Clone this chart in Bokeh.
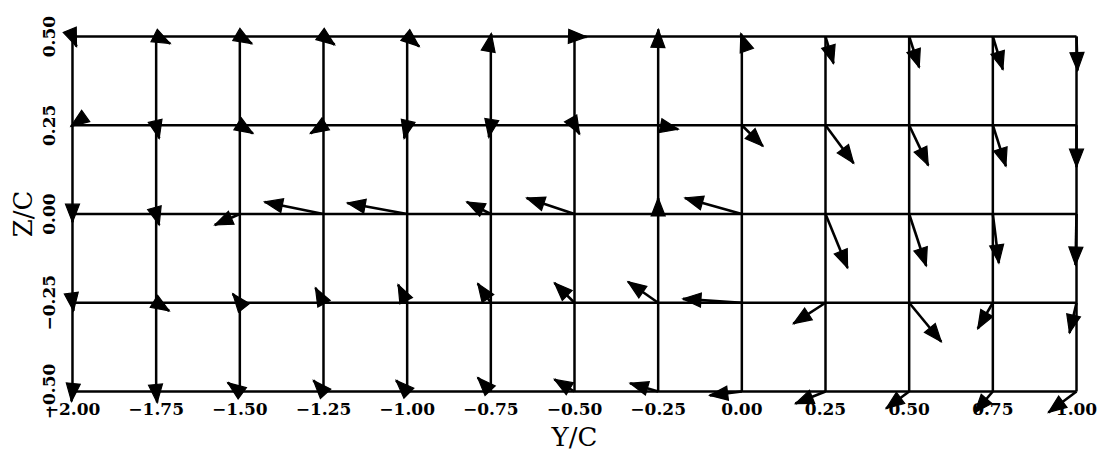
import numpy as np
from bokeh.plotting import figure
from bokeh.models import LinearAxis, FixedTicker, Range1d
from bokeh.embed import file_html
from bokeh.resources import INLINE

# grid stations
y_positions = [-2.00, -1.75, -1.50, -1.25, -1.00, -0.75, -0.50, -0.25,
               0.00, 0.25, 0.50, 0.75, 1.00]
z_positions = [0.50, 0.25, 0.00, -0.25, -0.50]

y_tick_labels = ["\u22122.00", "\u22121.75", "\u22121.50", "\u22121.25", "\u22121.00",
                 "\u22120.75", "\u22120.50", "\u22120.25", "0.00", "0.25", "0.50",
                 "0.75", "1.00"]
z_tick_labels = ["0.50", "0.25", "0.00", "\u22120.25", "\u22120.50"]

# vector components (in Y/C and Z/C units) at each station, one row per Z/C level
dy_z_p050 = [0.012, 0.042, 0.036, 0.033, 0.036, 0.0015, 0.036, 0.0005, -0.003, 0.024, 0.030, 0.030, 0.003]
dz_z_p050 = [-0.028, -0.020, -0.020, -0.023, -0.028, 0.008, -0.001, 0.020, 0.008, -0.076, -0.087, -0.093, -0.096]

dy_z_p025 = [-0.0045, 0.009, 0.039, -0.039, -0.009, -0.006, 0.015, 0.060, 0.063, 0.084, 0.057, 0.039, 0.000]
dz_z_p025 = [-0.003, -0.037, -0.023, -0.023, -0.037, -0.034, -0.025, -0.011, -0.059, -0.107, -0.113, -0.115, -0.118]

dy_z_000 = [0.000, 0.009, -0.075, -0.176, -0.179, -0.072, -0.143, 0.000, -0.170, 0.066, 0.051, 0.018, -0.003]
dz_z_000 = [-0.023, -0.031, -0.031, 0.034, 0.031, 0.034, 0.045, 0.045, 0.045, -0.152, -0.146, -0.138, -0.144]

dy_z_m025 = [0.003, 0.039, -0.021, -0.024, -0.027, -0.039, -0.060, -0.090, -0.176, -0.096, 0.096, -0.045, -0.021]
dz_z_m025 = [-0.023, -0.023, 0.025, 0.042, 0.051, 0.054, 0.056, 0.059, 0.011, -0.059, -0.110, -0.073, -0.085]

dy_z_m050 = [-0.003, 0.003, -0.036, -0.030, -0.033, -0.039, -0.060, -0.084, -0.096, -0.090, -0.069, -0.054, -0.084]
dz_z_m050 = [-0.028, -0.031, 0.025, 0.031, 0.031, 0.039, 0.034, 0.023, -0.011, -0.034, -0.048, -0.059, -0.059]

dy_rows = [dy_z_p050, dy_z_p025, dy_z_000, dy_z_m025, dy_z_m050]
dz_rows = [dz_z_p050, dz_z_p025, dz_z_000, dz_z_m025, dz_z_m050]

# ---------------------------------------------------------------------------
W, H = 1099, 456
x_lo, x_hi = -2.2151, 1.0687
z_lo, z_hi = -0.6831, 0.6014
HEAD_LEN, HEAD_WID = 18.0, 14.0   # arrow head size in screen pixels

Yg, Zg = np.meshgrid(np.array(y_positions), np.array(z_positions))
DY = np.array(dy_rows)
DZ = np.array(dz_rows)

ymin, ymax = min(y_positions), max(y_positions)
zmin, zmax = min(z_positions), max(z_positions)

p = figure(width=W, height=H, output_backend="svg", toolbar_location=None,
           x_range=Range1d(x_lo, x_hi), y_range=Range1d(z_lo, z_hi),
           x_axis_location=None, y_axis_location=None,
           min_border=0, min_border_left=0, min_border_right=0,
           min_border_top=0, min_border_bottom=0)
p.outline_line_color = None
p.xgrid.visible = False
p.ygrid.visible = False
p.background_fill_color = "white"
p.border_fill_color = "white"

# lattice lines
p.segment(x0=y_positions, y0=[zmin] * len(y_positions),
          x1=y_positions, y1=[zmax] * len(y_positions),
          line_color="black", line_width=2.5)
p.segment(x0=[ymin] * len(z_positions), y0=z_positions,
          x1=[ymax] * len(z_positions), y1=z_positions,
          line_color="black", line_width=2.5)

# vectors: shafts + filled heads (head size fixed in pixels)
sx = W / (x_hi - x_lo)        # px per Y/C unit in the frame
sz = H / (z_hi - z_lo)        # px per Z/C unit in the frame
y0 = Yg.ravel(); z0 = Zg.ravel()
y1 = (Yg + DY).ravel(); z1 = (Zg + DZ).ravel()
px = DY.ravel() * sx
pz = DZ.ravel() * sz
n = np.hypot(px, pz)
ux, uz = px / n, pz / n
by = y1 - HEAD_LEN * ux / sx
bz = z1 - HEAD_LEN * uz / sz
cy = -uz * HEAD_WID / 2 / sx
cz = ux * HEAD_WID / 2 / sz
head_xs = [[a, b + c, b - c] for a, b, c in zip(y1, by, cy)]
head_ys = [[a, b + c, b - c] for a, b, c in zip(z1, bz, cz)]

p.segment(x0=y0, y0=z0, x1=y1, y1=z1, line_color="black", line_width=2.6)
p.patches(xs=head_xs, ys=head_ys, fill_color="black", line_color="black",
          line_width=1.2, line_join="miter")

label_font = "DejaVu Serif"

xaxis = LinearAxis(fixed_location=zmin, bounds=(ymin, ymax),
                   ticker=FixedTicker(ticks=y_positions, minor_ticks=[]),
                   major_label_overrides={float(v): s for v, s in zip(y_positions, y_tick_labels)},
                   axis_line_color=None, major_tick_line_color=None,
                   minor_tick_line_color=None, major_tick_in=0, major_tick_out=0,
                   minor_tick_in=0, minor_tick_out=0,
                   major_label_standoff=12,
                   major_label_text_font=label_font, major_label_text_font_style="bold",
                   major_label_text_font_size="17px", major_label_text_color="black",
                   axis_label="Y/C", axis_label_text_font=label_font,
                   axis_label_text_font_style="normal", axis_label_text_font_size="26px",
                   axis_label_text_color="black", axis_label_standoff=3)
p.add_layout(xaxis, "below")

zaxis = LinearAxis(fixed_location=ymin, bounds=(zmin, zmax),
                   ticker=FixedTicker(ticks=z_positions, minor_ticks=[]),
                   major_label_overrides={float(v): s for v, s in zip(z_positions, z_tick_labels)},
                   major_label_orientation="vertical",
                   axis_line_color=None, major_tick_line_color=None,
                   minor_tick_line_color=None, major_tick_in=0, major_tick_out=0,
                   minor_tick_in=0, minor_tick_out=0,
                   major_label_standoff=17,
                   major_label_text_font=label_font, major_label_text_font_style="bold",
                   major_label_text_font_size="17px", major_label_text_color="black",
                   axis_label="Z/C", axis_label_text_font=label_font,
                   axis_label_text_font_style="normal", axis_label_text_font_size="26px",
                   axis_label_text_color="black", axis_label_standoff=3)
p.add_layout(zaxis, "left")

open("out.html", "w").write(file_html(p, INLINE))
